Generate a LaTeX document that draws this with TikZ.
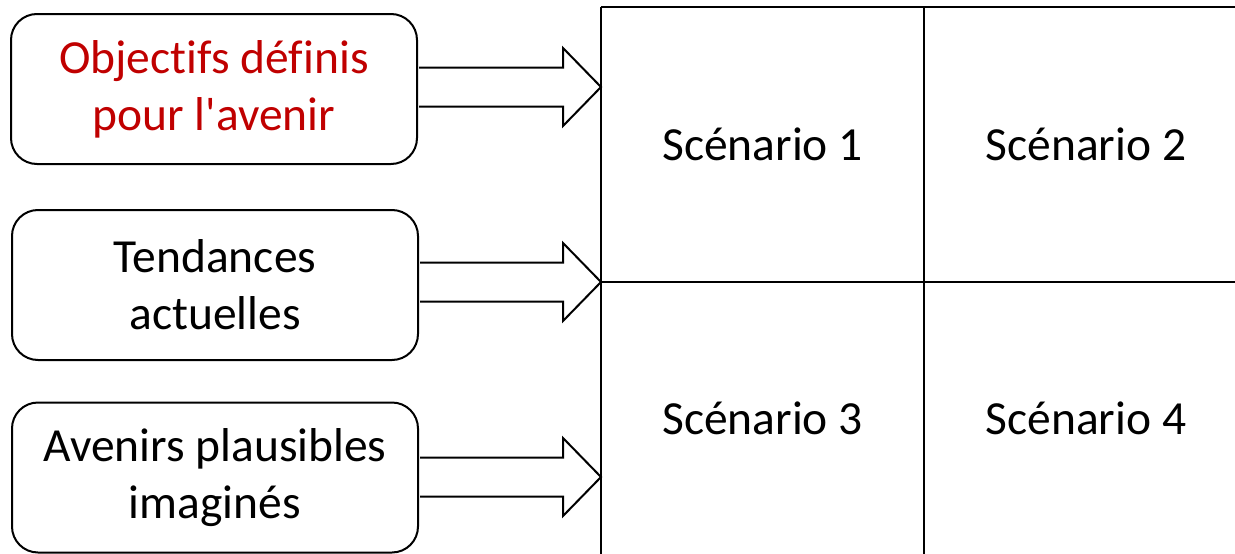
\documentclass[tikz,border=0pt]{standalone}
\usepackage{fontspec}
\setmainfont{Carlito}[Ligatures={NoCommon}]
\usetikzlibrary{calc}
\definecolor{objred}{HTML}{C00000}
\begin{document}
\begin{tikzpicture}[x=1pt,y=-1pt,
  srcbox/.style={draw=black,line width=2pt,rounded corners=26pt,minimum width=406pt,minimum height=150pt,align=center,inner sep=0pt,font=\fontsize{47.5}{57}\selectfont},
  cell/.style={minimum width=323pt,minimum height=275pt,inner sep=0pt,font=\fontsize{47.5}{57}\selectfont},
  gridline/.style={line width=1.5pt,black},
  arrowline/.style={line width=2pt,line join=miter,fill=white,draw=black}]
\useasboundingbox (0,0) rectangle (1235,554);
\node[srcbox,text=objred] (b1) at (214,89) {Objectifs définis\\pour l\textquotesingle avenir};
\node[srcbox] (b2) at (215,285) {Tendances\\actuelles};
\node[srcbox] (b3) at (215,477.5) {Avenirs plausibles\\imaginés};
\node[cell] (c1) at (762.5,144.5) {Scénario 1};
\node[cell] (c2) at (1086,144.5) {Scénario 2};
\node[cell] (c3) at (762.5,418) {Scénario 3};
\node[cell] (c4) at (1086,418) {Scénario 4};
\coordinate (t1) at (601,87);
\coordinate (t2) at (601,282);
\coordinate (t3) at (601,477);
\draw[gridline] (c1.north west) -- (c2.north east);
\draw[gridline] (c1.south west) -- (c2.south east);
\draw[gridline] (c1.north west) -- (c3.south west);
\draw[gridline] (c1.north east) -- (c3.south east);
\newcommand\blkarrow[2]{%
  \draw[arrowline] let \p1=(#1.east), \p2=(#2) in
    (\x1+1pt,\y2+19.5pt) -- (\x2-38pt,\y2+19.5pt) -- (\x2-38pt,\y2+39pt) -- (\x2,\y2)
    -- (\x2-38pt,\y2-39pt) -- (\x2-38pt,\y2-19.5pt) -- (\x1+1pt,\y2-19.5pt);}
\blkarrow{b1}{t1}
\blkarrow{b2}{t2}
\blkarrow{b3}{t3}
\end{tikzpicture}
\end{document}
